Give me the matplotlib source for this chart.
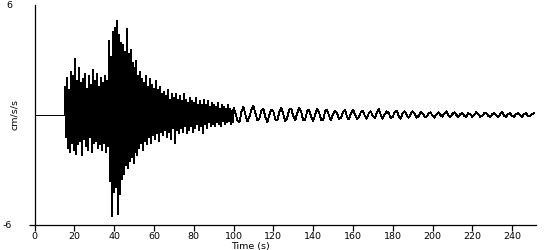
import numpy as np
import matplotlib
matplotlib.use("Agg")
import matplotlib.pyplot as plt

# ---- data (cm/s/s) ----
pre_time = [0.0, 15.0]
pre_vals = [0.0, 0.0]

dense_start = 15.0
dense_step = 0.5
dense_vals = [
    1.6, -1.2, 2.1, -1.8, 1.4, -2.0, 2.4, -1.5, 2.2, -1.9,
    3.1, -2.1, 1.9, -1.6, 2.6, -1.4, 1.8, -2.2, 2.0, -1.3,
    2.3, -1.7, 1.5, -1.9, 2.2, -1.2, 1.7, -2.0, 2.5, -1.5,
    1.9, -1.4, 2.3, -1.8, 1.6, -1.6, 2.1, -1.9, 1.8, -1.5,
    2.2, -2.0, 1.9, -1.7, 4.1, -3.6, 3.2, -5.5, 4.6, -4.2,
    4.8, -3.9, 5.2, -5.4, 4.4, -4.3, 4.0, -3.5, 3.9, -3.2,
    3.5, -2.7, 4.75, -2.9, 3.4, -2.5, 3.6, -2.3, 2.9, -2.6,
    2.6, -2.0, 3.0, -2.2, 2.2, -1.8, 2.4, -1.5, 2.0, -1.9,
    1.8, -1.4, 2.2, -1.6, 1.6, -1.2, 2.0, -1.5, 1.7, -1.1,
    1.5, -1.3, 1.9, -1.0, 1.4, -1.4, 1.6, -0.9, 1.2, -1.1,
    1.3, -0.8, 1.1, -1.2, 1.4, -0.9, 0.9, -1.3, 1.2, -0.7,
    1.0, -1.5, 1.2, -0.8, 0.9, -1.0, 1.1, -0.7, 0.8, -0.9,
    1.2, -0.6, 0.9, -1.0, 0.7, -0.8, 1.0, -0.6, 0.8, -0.9,
    0.7, -0.7, 1.0, -0.5, 0.6, -0.8, 0.8, -0.6, 0.6, -1.0,
    0.9, -0.5, 0.6, -0.7, 0.8, -0.4, 0.5, -0.6, 0.7, -0.5,
    0.6, -0.6, 0.5, -0.4, 0.7, -0.5, 0.4, -0.6, 0.6, -0.3,
    0.5, -0.5, 0.4, -0.4, 0.6, -0.3, 0.4, -0.5, 0.3, -0.4,
]

coda_start = 100.0
coda_step = 1.0
coda_vals = [
    0.4, 0.1, -0.3, -0.4, 0.2, 0.45, 0.0, -0.35, -0.1, 0.3,
    0.5, 0.1, -0.3, -0.2, 0.25, 0.35, -0.1, -0.4, 0.0, 0.3,
    0.2, -0.25, -0.3, 0.15, 0.4, 0.05, -0.35, -0.15, 0.3, 0.35,
    -0.05, -0.3, 0.1, 0.4, 0.2, -0.3, -0.25, 0.2, 0.3, -0.1,
    -0.35, 0.0, 0.35, 0.15, -0.25, -0.3, 0.2, 0.3, -0.05, -0.3,
    0.05, 0.25, 0.1, -0.2, -0.15, 0.15, 0.3, -0.1, -0.25, 0.1,
    0.3, 0.05, -0.2, -0.1, 0.15, 0.25, -0.05, -0.2, 0.1, 0.2,
    -0.05, -0.15, 0.1, 0.35, 0.0, -0.2, 0.05, 0.2, 0.1, -0.15,
    -0.1, 0.15, 0.25, -0.05, -0.2, 0.1, 0.2, 0.0, -0.15, 0.05,
    0.2, 0.05, -0.15, -0.05, 0.15, 0.1, -0.1, -0.1, 0.1, 0.15,
    -0.05, -0.15, 0.05, 0.15, 0.0, -0.1, 0.1, 0.2, -0.05, -0.1,
    0.05, 0.15, 0.0, -0.1, 0.05, 0.1, -0.05, -0.1, 0.1, 0.05,
    -0.1, 0.0, 0.15, 0.05, -0.1, -0.05, 0.1, 0.1, -0.05, -0.1,
    0.05, 0.1, 0.0, -0.1, 0.05, 0.15, -0.05, -0.1, 0.05, 0.1,
    -0.05, -0.1, 0.05, 0.1, 0.0, -0.1, 0.05, 0.1, -0.05, -0.05, 0.05, 0.1,
]

x_ticks = [0, 20, 40, 60, 80, 100, 120, 140, 160, 180, 200, 220, 240]
y_ticks = [-6, 6]

# ---- assemble ----
dense_t = dense_start + dense_step * np.arange(len(dense_vals))
coda_t = coda_start + coda_step * np.arange(len(coda_vals))
t1 = np.concatenate([pre_time, dense_t])
v1 = np.concatenate([pre_vals, dense_vals])
t2 = np.concatenate([dense_t[-1:], coda_t])
v2 = np.concatenate([np.asarray(dense_vals)[-1:], coda_vals])

plt.rcParams['font.family'] = ['DejaVu Sans']
plt.rcParams['axes.unicode_minus'] = False
fig = plt.figure(figsize=(5.5, 2.5), dpi=100)
L = 34.5 / 550
R = 536 / 550
ax = fig.add_axes([L, 25 / 250, R - L, 220 / 250])
ax.plot(t1, v1, color='black', linewidth=0.65, drawstyle='steps-mid', antialiased=False)
ax.plot(t2, v2, color='black', linewidth=0.6, antialiased=False)

ax.set_xlim(0, 252)
ax.set_ylim(-6, 6)
ax.set_xticks(x_ticks)
ax.set_yticks(y_ticks)
ax.spines['top'].set_visible(False)
ax.spines['right'].set_visible(False)
for s in ('left', 'bottom'):
    ax.spines[s].set_linewidth(0.9)
ax.tick_params(axis='x', direction='out', length=4.5, width=0.9, labelsize=6.8, pad=0.8)
ax.tick_params(axis='y', direction='out', length=4, width=0.9, labelsize=6.8, pad=12)
ax.yaxis.get_major_ticks()[1].tick1line.set_visible(False)

fig.text(15 / 550, 1 - 115 / 250, 'cm/s/s', rotation=90, ha='center', va='center', fontsize=6.8)
fig.text(250 / 550, 1 - 246 / 250, 'Time (s)', ha='center', va='center', fontsize=6.8)

fig.savefig('out.png', dpi=100, facecolor='white')
